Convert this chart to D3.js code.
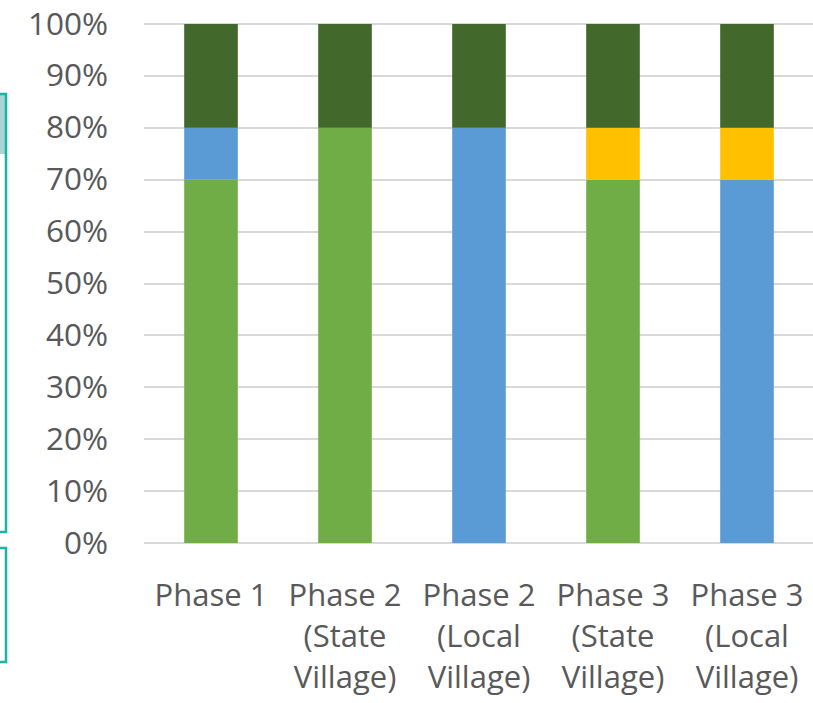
<!DOCTYPE html>
<html>

<head>
    <meta charset="utf-8">
    <title>Stacked Phase Chart</title>
    <script type="text/javascript" src="https://d3js.org/d3.v7.min.js"></script>
    <style>
        body {
            margin: 0;
            background: #ffffff;
        }
        svg {
            display: block;
        }
    </style>
</head>

<body>
</body>

<script type="text/javascript">
    var w = 813;
    var h = 703;

    // categories (each label split over lines)
    var categories = ["Phase 1", "Phase 2 (State Village)", "Phase 2 (Local Village)",
        "Phase 3 (State Village)", "Phase 3 (Local Village)"];
    var categoryLines = [
        ["Phase 1"],
        ["Phase 2", "(State", "Village)"],
        ["Phase 2", "(Local", "Village)"],
        ["Phase 3", "(State", "Village)"],
        ["Phase 3", "(Local", "Village)"]
    ];

    // series values in percent, stacked bottom to top
    var lightGreen = [70, 80, 0, 70, 0];
    var blue = [10, 0, 80, 0, 70];
    var gold = [0, 0, 0, 10, 10];
    var darkGreen = [20, 20, 20, 20, 20];

    var seriesNames = ["lightGreen", "blue", "gold", "darkGreen"];
    var seriesColors = ["#70ad47", "#5b9bd5", "#ffc000", "#43682b"];
    var yTicks = [0, 10, 20, 30, 40, 50, 60, 70, 80, 90, 100];

    // table for the stack layout
    var table = categories.map(function(c, i) {
        return {
            cat: c,
            lightGreen: lightGreen[i],
            blue: blue[i],
            gold: gold[i],
            darkGreen: darkGreen[i]
        };
    });

    var stacked = d3.stack().keys(seriesNames)(table);

    var svg = d3.select("body").append("svg").attr("width", w).attr("height", h);

    // decorative boxes cut off at the left edge
    svg.append("rect")
        .attr("x", -20).attr("y", 94)
        .attr("width", 26).attr("height", 60)
        .attr("fill", "#a9d5d2");
    svg.append("rect")
        .attr("x", -20).attr("y", 94)
        .attr("width", 26).attr("height", 438)
        .attr("fill", "none")
        .attr("stroke", "#17b2a8")
        .attr("stroke-width", 2.5);
    svg.append("rect")
        .attr("x", -20).attr("y", 548)
        .attr("width", 26).attr("height", 114)
        .attr("fill", "none")
        .attr("stroke", "#17b2a8")
        .attr("stroke-width", 2.5);

    var plotLeft = 144, plotRight = 814, plotTop = 24, plotBottom = 543;

    var xScale = d3.scaleBand()
        .domain(categories)
        .range([plotLeft, plotRight])
        .paddingInner(0.6)
        .paddingOuter(0.3);

    var yScale = d3.scaleLinear()
        .domain([0, 100])
        .range([plotBottom, plotTop]);

    // gridlines
    svg.append("g")
        .selectAll("line")
        .data(yTicks)
        .enter()
        .append("line")
        .attr("x1", plotLeft)
        .attr("x2", plotRight)
        .attr("y1", function(d) { return Math.round(yScale(d)); })
        .attr("y2", function(d) { return Math.round(yScale(d)); })
        .attr("stroke", "#d9d9d9")
        .attr("stroke-width", 2);

    // bars
    svg.append("g")
        .selectAll("g")
        .data(stacked)
        .enter()
        .append("g")
        .attr("fill", function(d, i) { return seriesColors[i]; })
        .selectAll("rect")
        .data(function(d) { return d; })
        .enter()
        .append("rect")
        .attr("x", function(d) { return xScale(d.data.cat); })
        .attr("width", xScale.bandwidth())
        .attr("y", function(d) { return yScale(d[1]); })
        .attr("height", function(d) { return yScale(d[0]) - yScale(d[1]); });

    // y axis labels
    var yAxis = d3.axisLeft(yScale)
        .tickValues(yTicks)
        .tickSize(0)
        .tickPadding(0)
        .tickFormat(function(d) { return d + "%"; });

    var gy = svg.append("g")
        .attr("transform", "translate(108,0)")
        .call(yAxis);
    gy.select(".domain").remove();
    gy.selectAll("text")
        .attr("font-family", "'Open Sans', sans-serif")
        .attr("font-size", "31.5px")
        .attr("fill", "#595959");

    // category labels
    var labels = svg.append("g")
        .selectAll("text")
        .data(categories)
        .enter()
        .append("text")
        .attr("x", function(d) { return xScale(d) + xScale.bandwidth() / 2; })
        .attr("y", 606)
        .attr("text-anchor", "middle")
        .attr("font-family", "'Open Sans', sans-serif")
        .attr("font-size", "31px")
        .attr("fill", "#595959");

    labels.selectAll("tspan")
        .data(function(d, i) { return categoryLines[i]; })
        .enter()
        .append("tspan")
        .attr("x", function() { return d3.select(this.parentNode).attr("x"); })
        .attr("dy", function(d, i) { return i === 0 ? 0 : 41; })
        .text(function(d) { return d; });
</script>
</html>
